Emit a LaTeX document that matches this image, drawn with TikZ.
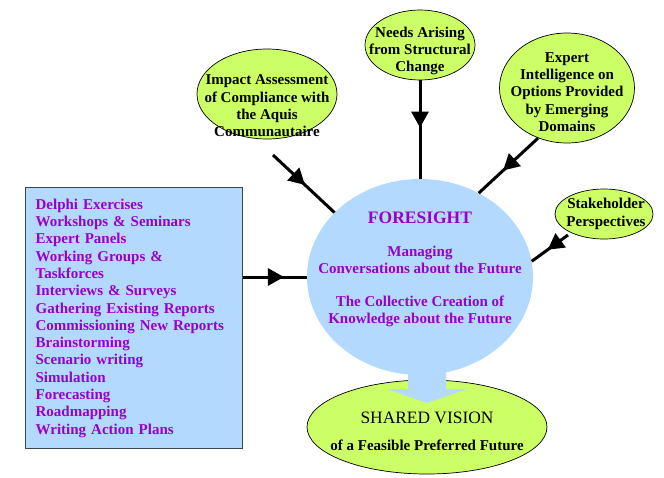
\documentclass[tikz,border=0pt]{standalone}
\usepackage{fontspec}
\setmainfont{Liberation Serif}
\usetikzlibrary{shapes.geometric,decorations.markings,arrows.meta}
\definecolor{limefill}{RGB}{204,255,102}
\definecolor{skyfill}{RGB}{179,217,255}
\definecolor{purpletext}{RGB}{153,0,204}
\definecolor{boxedge}{RGB}{60,70,80}
\begin{document}
\begin{tikzpicture}[x=1pt,y=-1pt,
  bubble/.style={ellipse,draw=black,line width=0.7pt,fill=limefill,inner sep=0pt},
  bubbletext/.style={align=center,inner sep=0pt,font=\fontsize{15}{17.3}\selectfont\bfseries},
  conn/.style={line width=3pt,postaction={decorate},
    decoration={markings,mark=at position #1 with {\arrow{Triangle[length=16pt,width=17pt]}}}}
]
\useasboundingbox (0,0) rectangle (664,477);

% foresight ellipse
\node[ellipse,fill=skyfill,inner sep=0pt,minimum width=226pt,minimum height=196pt] (fore) at (420,277) {};
\node[font=\fontsize{17.5}{20}\selectfont\bfseries,text=purpletext] (foretitle) at (420,218) {FORESIGHT};
\node[font=\fontsize{15}{16.8}\selectfont\bfseries,text=purpletext,align=center] (foretext1) at (420,260) {Managing\\Conversations about the Future};
\node[font=\fontsize{15}{16.8}\selectfont\bfseries,text=purpletext,align=center] (foretext2) at (420,311) {The Collective Creation of\\Knowledge about the Future};

% shared vision
\node[ellipse,draw=black,line width=0.7pt,fill=limefill,inner sep=0pt,minimum width=240pt,minimum height=94pt] (shared) at (427,427) {};
\node[font=\fontsize{17.4}{20}\selectfont] (sharedtitle) at (427,418) {SHARED VISION};
\node[font=\fontsize{15}{17}\selectfont\bfseries] (sharedsub) at (427,445) {of a Feasible Preferred Future};

% big arrow
\fill[skyfill] (408,355) -- (446,355) -- (446,389) -- (467,389) -- (427,403) -- (387,389) -- (408,389) -- cycle;

% bubbles
\node[bubble,minimum width=140pt,minimum height=90pt] (imp) at (267,94) {};
\node[bubbletext] (imptext) at (267,106) {Impact Assessment\\of Compliance with\\the Aquis\\Communautaire};
\node[bubble,minimum width=110pt,minimum height=70pt] (needs) at (420,45) {};
\node[bubbletext] (needstext) at (420,51) {Needs Arising\\from Structural\\Change};
\node[bubble,minimum width=135pt,minimum height=110pt] (expert) at (567,88) {};
\node[bubbletext] (experttext) at (567,92) {Expert\\Intelligence on\\Options Provided\\by Emerging\\Domains};
\node[bubble,minimum width=98pt,minimum height=50pt] (stake) at (604,214) {};
\node[bubbletext] (staketext) at (606,214) {Stakeholder\\Perspectives};

% methods box
\node[draw=boxedge,line width=1.3pt,fill=skyfill,anchor=north west,minimum width=217pt,minimum height=261pt,
  inner xsep=10pt,inner ysep=0pt,text width=197pt,align=left,text=purpletext,
  font=\fontsize{15}{17.3}\selectfont\bfseries] (methods) at (25,187)
  {Delphi Exercises\\Workshops \& Seminars\\Expert Panels\\Working Groups \&\\Taskforces\\Interviews \& Surveys\\Gathering Existing Reports\\Commissioning New Reports\\Brainstorming\\Scenario writing\\Simulation\\Forecasting\\Roadmapping\\Writing Action Plans};

% connectors
\coordinate (impend) at (273,155);
\coordinate (stakeend) at (568,235);
\draw[conn=0.52] (impend) -- (fore.143);
\draw[conn=0.48] (needs.south) -- (fore.north);
\draw[conn=0.59] (expert.-120) -- (fore.55);
\draw[conn=0.56] (stakeend) -- (fore.8);
\draw[conn=0.64] (methods.east |- fore.west) -- (fore.west);
\end{tikzpicture}
\end{document}
